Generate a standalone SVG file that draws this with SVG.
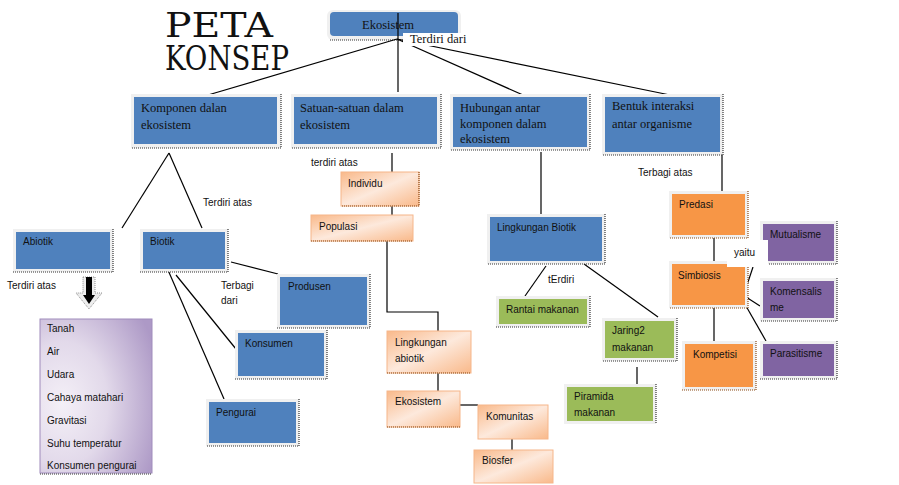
<svg xmlns="http://www.w3.org/2000/svg" width="899" height="485" viewBox="0 0 899 485">
<defs>
<linearGradient id="peach" x1="0" y1="0" x2="1" y2="1">
<stop offset="0" stop-color="#f9b98a"/>
<stop offset="0.5" stop-color="#fde9dc"/>
<stop offset="1" stop-color="#f9b98a"/>
</linearGradient>
<radialGradient id="lav" cx="0.2" cy="0.55" r="0.9">
<stop offset="0" stop-color="#f4f0f7"/>
<stop offset="0.45" stop-color="#e2d9ea"/>
<stop offset="1" stop-color="#ad99c6"/>
</radialGradient>
</defs>
<style>
.fr{fill:#f0f0f0}
.bl{fill:#4f81bd}
.gr{fill:#9bbb59}
.or{fill:#f79646}
.pu{fill:#8064a2}
.pe{fill:url(#peach);stroke:#f6b68a;stroke-width:1}
.sh{fill:none;stroke:#333;stroke-width:1.2;stroke-dasharray:1 1}
.shb{fill:none;stroke:#8a4a14;stroke-width:1.2;stroke-dasharray:1 1}
.c line,.c polyline{stroke:#000;stroke-width:1.2;fill:none}
.s{font-family:"Liberation Sans",Arial,sans-serif;font-size:10px;fill:#111}
.r{font-family:"Liberation Serif","Times New Roman",serif;font-size:12.5px;fill:#111}
.t{font-family:"DejaVu Serif",serif;font-size:34px;fill:#111}
</style>

<g id="title">
<text class="t" x="165" y="37" textLength="108" lengthAdjust="spacingAndGlyphs">PETA</text>
<text class="t" x="165" y="70" textLength="124" lengthAdjust="spacingAndGlyphs">KONSEP</text>
</g>

<g id="n-ekosistem">
<rect class="fr" x="327" y="10" width="134" height="30" rx="6"/>
<rect class="bl" x="330" y="12" width="128" height="24" rx="4"/>
<line class="sh" x1="330" y1="40" x2="460" y2="40"/>
<text class="r" x="362" y="29" font-size="15">Ekosistem</text>
</g>

<g id="connectors" class="c">
<line x1="398" y1="13" x2="398" y2="92"/>
<line x1="397" y1="39" x2="208" y2="95"/>
<line x1="397" y1="39" x2="523" y2="95"/>
<line x1="397" y1="39" x2="670" y2="95"/>
<line x1="169" y1="153" x2="122" y2="228"/>
<line x1="169" y1="153" x2="202" y2="228"/>
<line x1="231" y1="262" x2="278" y2="274"/>
<line x1="176" y1="275" x2="236" y2="349"/>
<line x1="168" y1="270" x2="224" y2="399"/>
<line x1="392" y1="153" x2="392" y2="172"/>
<line x1="392" y1="206" x2="392" y2="215"/>
<polyline points="387,241 387,312 438,312 438,331"/>
<line x1="438" y1="373" x2="438" y2="391"/>
<line x1="460" y1="405" x2="478" y2="405"/>
<line x1="512" y1="439" x2="512" y2="450"/>
<line x1="541" y1="152" x2="541" y2="215"/>
<line x1="546" y1="266" x2="525" y2="296"/>
<line x1="584" y1="264" x2="658" y2="317"/>
<line x1="637" y1="367" x2="637" y2="384"/>
<line x1="722" y1="155" x2="722" y2="191"/>
<line x1="714" y1="238" x2="714" y2="261"/>
<line x1="714" y1="305" x2="714" y2="341"/>
<line x1="753" y1="267" x2="746" y2="288"/>
<line x1="746" y1="297" x2="760" y2="306"/>
<line x1="746" y1="306" x2="766" y2="341"/>
</g>

<g id="lbl-terdiri-dari">
<rect x="403" y="33" width="59" height="13" fill="#fff"/>
<text class="r" x="410" y="43" font-size="11">Terdiri dari</text>
</g>

<g id="n-komponen">
<rect class="fr" x="131" y="94" width="150" height="54"/>
<rect class="bl" x="134" y="97" width="143" height="47"/>
<polyline class="sh" points="281,94 281,148 131,148"/>
<text class="r" x="141" y="112">Komponen dalan</text>
<text class="r" x="141" y="129">ekosistem</text>
</g>

<g id="n-satuan">
<rect class="fr" x="291" y="94" width="150" height="54"/>
<rect class="bl" x="294" y="97" width="143" height="47"/>
<polyline class="sh" points="441,94 441,148 291,148"/>
<text class="r" x="300" y="112">Satuan-satuan dalam</text>
<text class="r" x="300" y="129">ekosistem</text>
</g>

<g id="n-hubungan">
<rect class="fr" x="450" y="94" width="140" height="56"/>
<rect class="bl" x="453" y="97" width="134" height="50"/>
<polyline class="sh" points="590,94 590,150 450,150"/>
<text class="r" x="460" y="112">Hubungan antar</text>
<text class="r" x="460" y="128">komponen dalam</text>
<text class="r" x="460" y="143">ekosistem</text>
</g>

<g id="n-bentuk">
<rect class="fr" x="602" y="94" width="121" height="61"/>
<rect class="bl" x="605" y="97" width="115" height="55"/>
<polyline class="sh" points="723,94 723,155 602,155"/>
<text class="r" x="612" y="110">Bentuk  interaksi</text>
<text class="r" x="612" y="128">antar organisme</text>
</g>

<g id="labels">
<text class="s" x="311" y="166">terdiri atas</text>
<text class="s" x="203" y="206">Terdiri atas</text>
<text class="s" x="7" y="289">Terdiri atas</text>
<text class="s" x="221" y="289">Terbagi</text>
<text class="s" x="221" y="304">dari</text>
<text class="s" x="638" y="176">Terbagi atas</text>
</g>

<g id="n-abiotik">
<rect class="fr" x="13" y="229" width="100" height="43"/>
<rect class="bl" x="16" y="232" width="94" height="37"/>
<polyline class="sh" points="113,229 113,272 13,272"/>
<text class="s" x="23" y="245">Abiotik</text>
</g>

<g id="n-biotik">
<rect class="fr" x="140" y="229" width="88" height="43"/>
<rect class="bl" x="143" y="232" width="82" height="37"/>
<polyline class="sh" points="228,229 228,272 140,272"/>
<text class="s" x="150" y="245">Biotik</text>
</g>

<g id="arrow">
<polygon points="83,277 95,277 95,293 102,293 89,309 76,293 83,293" fill="#eee" stroke="#777" stroke-width="0.8" stroke-dasharray="1 1"/>
<polygon points="86,277 92,277 92,295 95,295 89,304 83,295 86,295" fill="#000"/>
</g>

<g id="n-abiotik-list">
<rect x="40" y="319" width="112" height="154" fill="url(#lav)" stroke="#a08cbc" stroke-width="1"/>
<line class="sh" x1="40" y1="474" x2="152" y2="474"/>
<text class="s" x="47" y="332">Tanah</text>
<text class="s" x="47" y="355">Air</text>
<text class="s" x="47" y="378">Udara</text>
<text class="s" x="47" y="401">Cahaya matahari</text>
<text class="s" x="47" y="424">Gravitasi</text>
<text class="s" x="47" y="447">Suhu  temperatur</text>
<text class="s" x="47" y="469">Konsumen pengurai</text>
</g>

<g id="n-produsen">
<rect class="fr" x="277" y="274" width="93" height="54"/>
<rect class="bl" x="280" y="277" width="87" height="48"/>
<polyline class="sh" points="370,274 370,328 277,328"/>
<text class="s" x="288" y="290">Produsen</text>
</g>

<g id="n-konsumen">
<rect class="fr" x="235" y="330" width="92" height="49"/>
<rect class="bl" x="238" y="333" width="86" height="43"/>
<polyline class="sh" points="327,330 327,379 235,379"/>
<text class="s" x="245" y="347">Konsumen</text>
</g>

<g id="n-pengurai">
<rect class="fr" x="206" y="399" width="93" height="47"/>
<rect class="bl" x="209" y="402" width="87" height="41"/>
<polyline class="sh" points="299,399 299,446 206,446"/>
<text class="s" x="216" y="416">Pengurai</text>
</g>

<g id="n-individu">
<rect class="pe" x="341" y="172" width="78" height="34"/>
<polyline class="shb" points="419,172 419,206 341,206"/>
<text class="s" x="348" y="187">Individu</text>
</g>

<g id="n-populasi">
<rect class="pe" x="311" y="215" width="102" height="26"/>
<line class="shb" x1="311" y1="241" x2="413" y2="241"/>
<text class="s" x="319" y="230">Populasi</text>
</g>

<g id="n-lingkungan-abiotik">
<rect class="pe" x="387" y="331" width="84" height="42"/>
<line class="shb" x1="387" y1="373" x2="471" y2="373"/>
<text class="s" x="395" y="346">Lingkungan</text>
<text class="s" x="395" y="362">abiotik</text>
</g>

<g id="n-ekosistem2">
<rect class="pe" x="387" y="391" width="73" height="36"/>
<line class="shb" x1="387" y1="427" x2="460" y2="427"/>
<text class="s" x="395" y="405">Ekosistem</text>
</g>

<g id="n-komunitas">
<rect class="pe" x="478" y="405" width="70" height="34"/>
<text class="s" x="486" y="420">Komunitas</text>
</g>

<g id="n-biosfer">
<rect class="pe" x="474" y="450" width="79" height="33"/>
<text class="s" x="482" y="464">Biosfer</text>
</g>

<g id="n-lingkungan-biotik">
<rect class="fr" x="487" y="214" width="118" height="50"/>
<rect class="bl" x="490" y="217" width="112" height="44"/>
<polyline class="sh" points="605,214 605,264 487,264"/>
<text class="s" x="497" y="231">Lingkungan Biotik</text>
</g>

<g id="lbl-terdiri2">
<rect x="544" y="272" width="36" height="15" fill="#fff"/>
<text class="s" x="548" y="283">tErdiri</text>
</g>

<g id="n-rantai">
<rect class="fr" x="496" y="296" width="94" height="31"/>
<rect class="gr" x="499" y="299" width="88" height="25"/>
<polyline class="sh" points="590,296 590,327 496,327"/>
<text class="s" x="506" y="313">Rantai makanan</text>
</g>

<g id="n-jaring">
<rect class="fr" x="602" y="318" width="75" height="43"/>
<rect class="gr" x="605" y="321" width="69" height="37"/>
<polyline class="sh" points="677,318 677,361 602,361"/>
<text class="s" x="612" y="334">Jaring2</text>
<text class="s" x="612" y="351">makanan</text>
</g>

<g id="n-piramida">
<rect class="fr" x="564" y="384" width="92" height="40"/>
<rect class="gr" x="567" y="387" width="86" height="34"/>
<polyline class="sh" points="656,384 656,424"/>
<text class="s" x="574" y="400">Piramida</text>
<text class="s" x="574" y="416">makanan</text>
</g>

<g id="n-predasi">
<rect class="fr" x="669" y="191" width="79" height="47"/>
<rect class="or" x="672" y="194" width="73" height="41"/>
<polyline class="shb" points="748,191 748,238 669,238"/>
<text class="s" x="679" y="208">Predasi</text>
</g>

<g id="n-simbiosis">
<rect class="fr" x="669" y="261" width="79" height="47"/>
<rect class="or" x="672" y="264" width="73" height="41"/>
<polyline class="shb" points="748,261 748,308 669,308"/>
<text class="s" x="678" y="279">Simbiosis</text>
</g>

<g id="n-kompetisi">
<rect class="fr" x="682" y="341" width="74" height="49"/>
<rect class="or" x="685" y="344" width="68" height="43"/>
<polyline class="shb" points="756,341 756,390 682,390"/>
<text class="s" x="693" y="358">Kompetisi</text>
</g>

<g id="n-mutualisme">
<rect class="fr" x="760" y="221" width="77" height="43"/>
<rect class="pu" x="763" y="224" width="71" height="37"/>
<polyline class="sh" points="837,221 837,264 760,264"/>
<text class="s" x="770" y="238">Mutualisme</text>
</g>

<g id="lbl-yaitu">
<rect x="727" y="240" width="41" height="27" fill="#fff"/>
<text class="s" x="734" y="256">yaitu</text>
</g>

<g id="n-komensalisme">
<rect class="fr" x="760" y="278" width="77" height="43"/>
<rect class="pu" x="763" y="281" width="71" height="37"/>
<polyline class="sh" points="837,278 837,321 760,321"/>
<text class="s" x="770" y="295">Komensalis</text>
<text class="s" x="770" y="311">me</text>
</g>

<g id="n-parasitisme">
<rect class="fr" x="760" y="341" width="77" height="38"/>
<rect class="pu" x="763" y="344" width="71" height="32"/>
<polyline class="sh" points="837,341 837,379 760,379"/>
<text class="s" x="770" y="357">Parasitisme</text>
</g>
</svg>
